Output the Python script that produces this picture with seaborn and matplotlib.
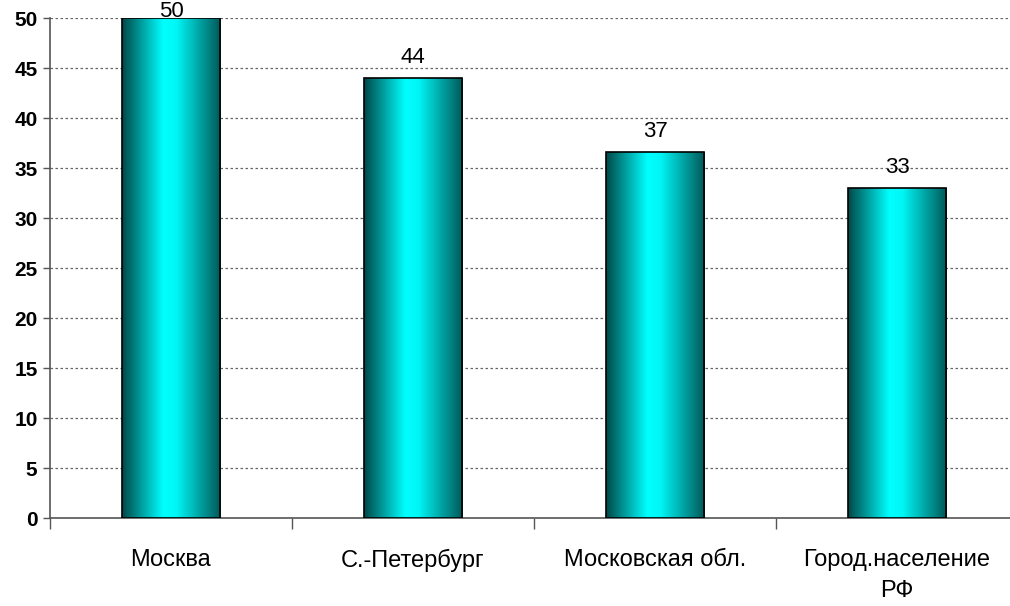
import numpy as np
import pandas as pd
import matplotlib
matplotlib.use("Agg")
import matplotlib.pyplot as plt
from matplotlib.colors import LinearSegmentedColormap
import seaborn as sns

regions = ["Москва", "С.-Петербург", "Московская обл.", "Город.население\nРФ"]
values = [50, 44, 36.6, 33]
y_ticks = [0, 5, 10, 15, 20, 25, 30, 35, 40, 45, 50]

sns.set_theme(style="white")
plt.rcParams["font.family"] = ["Liberation Sans", "DejaVu Sans"]

df = pd.DataFrame({"region": regions, "value": values})

fig = plt.figure(figsize=(10.10, 6.06), dpi=100)
ax = fig.add_axes([50 / 1010, 88 / 606, 968 / 1010, 500 / 606])

sns.barplot(data=df, x="region", y="value", ax=ax, width=0.405,
            color="#00c8c8", edgecolor="black", linewidth=1.2, zorder=3)

ax.set_ylim(0, 50)
ax.set_xlim(-0.5, len(regions) - 0.5)

# horizontal cylinder-like shading inside every bar
shade = LinearSegmentedColormap.from_list(
    "shade", [(0.0, "#004848"), (0.42, "#00ffff"), (0.55, "#00f6f6"), (1.0, "#005858")])
grad = np.linspace(0, 1, 256).reshape(1, -1)
for bar in ax.patches:
    x0, y0 = bar.get_x(), bar.get_y()
    w, h = bar.get_width(), bar.get_height()
    im = ax.imshow(grad, cmap=shade, aspect="auto", extent=[x0, x0 + w, y0, y0 + h],
                   zorder=3.5, interpolation="bicubic")
    im.set_clip_path(bar)
    bar.set_facecolor("none")
    bar.set_zorder(4)

# value labels above bars; the tallest one hangs from the top edge of the figure
for i, v in enumerate(values):
    if v >= max(y_ticks):
        ax.annotate(f"{v:.0f}", xy=(i, 1.0), xycoords=("data", "figure fraction"),
                    xytext=(0, -1), textcoords="offset points",
                    ha="center", va="top", fontsize=16, color="black", zorder=6)
    else:
        ax.annotate(f"{v:.0f}", xy=(i, v), xytext=(0, 7), textcoords="offset points",
                    ha="center", va="bottom", fontsize=16, color="black", clip_on=False)

ax.set_yticks(y_ticks)
ax.set_yticklabels([str(t) for t in y_ticks], fontsize=15, fontweight="bold")
ax.yaxis.grid(True, linestyle=(0, (2, 2)), color="#666666", linewidth=0.9, zorder=0)
ax.xaxis.grid(False)

# category boundaries carry tick marks, centers carry labels
ax.set_xticks(np.arange(len(regions) + 1) - 0.5)
ax.set_xticklabels([])
ax.set_xticks(np.arange(len(regions)), minor=True)
ax.set_xticklabels(regions, minor=True, fontsize=17, linespacing=1.55)
ax.tick_params(axis="x", which="major", direction="out", length=8, width=1, color="#555555", bottom=True)
ax.tick_params(axis="x", which="minor", length=0, pad=22, labelcolor="black")
ax.tick_params(axis="y", direction="out", length=5, width=1, color="#555555", left=True, pad=4,
               labelcolor="black")

ax.set_xlabel("")
ax.set_ylabel("")
for s in ["top", "right"]:
    ax.spines[s].set_visible(False)
for s in ["left", "bottom"]:
    ax.spines[s].set_color("#555555")
    ax.spines[s].set_linewidth(1.2)

fig.savefig("out.png", dpi=100)
